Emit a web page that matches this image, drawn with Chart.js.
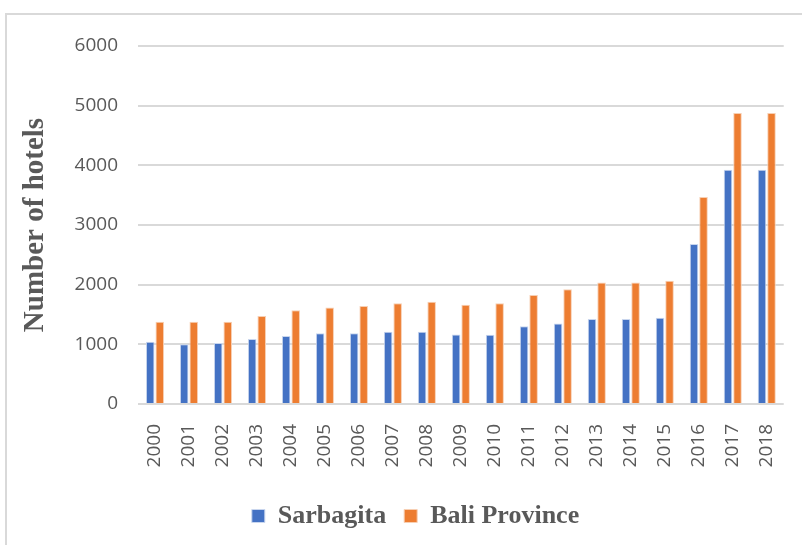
<!DOCTYPE html>
<html><head><meta charset="utf-8">
<script src="https://cdn.jsdelivr.net/npm/chart.js@4"></script>
<style>
body{margin:0;background:#fff;}
#frame{position:absolute;left:5px;top:13px;width:800px;height:540px;border:2px solid #d9d9d9;box-sizing:border-box;}
#wrap{position:absolute;left:0;top:0;width:802px;height:545px;}
</style></head>
<body>
<div id="frame"></div>
<div id="wrap"><canvas id="c" width="802" height="545"></canvas></div>
<script>
const years = ["2000","2001","2002","2003","2004","2005","2006","2007","2008","2009","2010","2011","2012","2013","2014","2015","2016","2017","2018"];
const sarbagita = [1045,1000,1023,1090,1141,1186,1186,1209,1209,1164,1159,1305,1350,1423,1423,1445,2683,3926,3926];
const baliProvince = [1378,1378,1378,1475,1570,1616,1644,1689,1712,1665,1687,1828,1923,2036,2036,2064,3470,4876,4876];
const yTicks = [0,1000,2000,3000,4000,5000,6000];

const shiftLegend = {
  id:'shiftLegend',
  afterLayout(chart){
    const lg = chart.legend;
    if (lg && !lg._patched){
      const orig = lg.draw.bind(lg);
      lg.draw = function(){ const ctx = chart.ctx; ctx.save(); ctx.translate(14,0); orig(); ctx.restore(); };
      lg._patched = true;
    }
  }
};

const tickFont = {family:"'Open Sans',sans-serif", size:19};
new Chart(document.getElementById('c'), {
  type:'bar',
  data:{labels:years, datasets:[
    {label:'Sarbagita', data:sarbagita, backgroundColor:'#4472C4', borderColor:'#c9d6ee', borderWidth:1, categoryPercentage:0.56, barPercentage:0.9},
    {label:'Bali Province', data:baliProvince, backgroundColor:'#ED7D31', borderColor:'#f7cfb3', borderWidth:1, categoryPercentage:0.56, barPercentage:0.9}
  ]},
  plugins:[shiftLegend],
  options:{
    responsive:false, animation:false,
    layout:{padding:{left:18,right:17,top:46,bottom:6}},
    plugins:{
      legend:{position:'bottom', labels:{boxWidth:13, boxHeight:13, padding:18, color:'#595959', font:{family:"'Liberation Serif',serif", size:26, weight:'bold'}}},
      tooltip:{enabled:false}
    },
    scales:{
      x:{grid:{display:false}, border:{display:false},
        ticks:{color:'#595959', font:tickFont, minRotation:90, maxRotation:90, autoSkip:false, padding:12},
        afterFit:(s)=>{s.height=81;}},
      y:{min:0,max:6000, border:{display:false},
        grid:{color:'#d9d9d9', lineWidth:2, drawTicks:false},
        afterBuildTicks:(s)=>{s.ticks=yTicks.map(v=>({value:v}));},
        ticks:{color:'#595959', font:tickFont, padding:20, callback:(v)=>String(v)},
        title:{display:true, text:'Number of hotels', color:'#595959', font:{family:"'Liberation Serif',serif", size:29, weight:'bold'}, padding:{top:0,bottom:8}},
        afterFit:(s)=>{s.width=120;}}
    }
  }
});
</script>
</body></html>
